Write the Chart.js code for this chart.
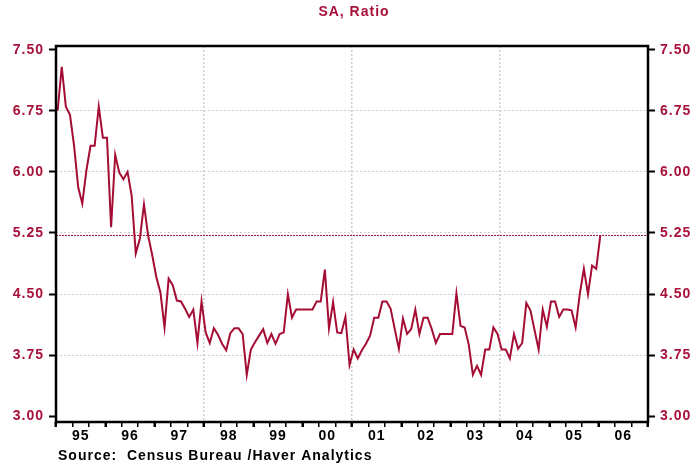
<!DOCTYPE html>
<html>
<head>
<meta charset="utf-8">
<script src="https://cdn.jsdelivr.net/npm/chart.js@4.4.1/dist/chart.umd.min.js"></script>
<style>
  html, body { margin: 0; padding: 0; background: #fff; }
</style>
</head>
<body>
<canvas id="ratioChart" width="696" height="467"></canvas>
<script>
// months' supply ratio, monthly Jan 1995 .. Jan 2006
const values = [
  6.75, 7.29, 6.80, 6.70, 6.32, 5.81, 5.61, 6.02, 6.32, 6.32, 6.80, 6.42,
  6.42, 5.32, 6.21, 5.99, 5.91, 6.00, 5.71, 5.00, 5.18, 5.60, 5.22, 4.98,
  4.71, 4.52, 4.09, 4.69, 4.61, 4.42, 4.41, 4.32, 4.22, 4.31, 3.90, 4.41,
  4.03, 3.90, 4.08, 4.00, 3.89, 3.81, 4.02, 4.08, 4.08, 4.01, 3.51, 3.82,
  3.91, 3.99, 4.07, 3.90, 4.01, 3.89, 4.01, 4.03, 4.50, 4.21, 4.31, 4.31,
  4.31, 4.31, 4.31, 4.41, 4.41, 4.80, 4.08, 4.40, 4.03, 4.02, 4.22, 3.63,
  3.82, 3.71, 3.81, 3.89, 3.99, 4.21, 4.21, 4.41, 4.41, 4.32, 4.07, 3.83,
  4.20, 4.01, 4.07, 4.31, 4.01, 4.21, 4.21, 4.07, 3.90, 4.01, 4.01, 4.01,
  4.01, 4.51, 4.11, 4.09, 3.88, 3.51, 3.62, 3.51, 3.82, 3.82, 4.09, 4.01,
  3.82, 3.82, 3.71, 4.01, 3.83, 3.90, 4.39, 4.30, 4.06, 3.82, 4.31, 4.10,
  4.41, 4.41, 4.22, 4.31, 4.31, 4.30, 4.09, 4.50, 4.81, 4.50, 4.85, 4.81,
  5.22
];
const yearLabels = ['95', '96', '97', '98', '99', '00', '01', '02', '03', '04', '05', '06'];
const yTicks = [3.00, 3.75, 4.50, 5.25, 6.00, 6.75, 7.50];
const gridYears = [36, 72, 108]; // month offsets of the vertical grid lines

const RED = '#a8113a';
const LINE = '#a50d34';
const GRID = '#cdcdcd';
const FONT = { family: "'Liberation Sans', Arial, sans-serif", size: 14, weight: 'bold' };
const nMonths = yearLabels.length * 12;

const points = values.map((v, i) => ({ x: i + 0.4, y: v }));
const last = values[values.length - 1];

// x ticks: every 4 months, plus a label tick in the middle of each year
const xTicks = [];
for (let m = 0; m <= nMonths; m += 4) xTicks.push({ value: m });
yearLabels.forEach((l, i) => xTicks.push({ value: i * 12 + 6 }));
xTicks.sort((a, b) => a.value - b.value);

const extras = {
  id: 'extras',
  beforeDraw(chart) {
    chart.ctx.letterSpacing = '1px';
  },
  afterDatasetsDraw(chart) {
    const { ctx, chartArea: a } = chart;
    ctx.save();
    ctx.strokeStyle = '#000';
    ctx.lineWidth = 2.5;
    ctx.strokeRect(a.left, a.top, a.right - a.left, a.bottom - a.top);
    ctx.restore();
  },
  afterDraw(chart) {
    const ctx = chart.ctx;
    ctx.save();
    ctx.font = 'bold 14px "Liberation Sans", Arial, sans-serif';
    ctx.fillStyle = RED;
    ctx.textAlign = 'center';
    ctx.textBaseline = 'middle';
    ctx.fillText('SA, Ratio', 354, 12);
    ctx.fillStyle = '#000';
    ctx.textAlign = 'left';
    ctx.fillText('Source:  Census Bureau /Haver Analytics', 58, 456);
    ctx.restore();
    ctx.letterSpacing = '0px';
  }
};

const yAxis = (pos, w) => ({
  position: pos,
  min: 2.93,
  max: 7.545,
  afterBuildTicks: s => { s.ticks = yTicks.map(v => ({ value: v })); },
  afterFit: s => { s.width = w; },
  border: { display: false, dash: [2, 2] },
  grid: {
    drawOnChartArea: pos === 'left',
    color: c => (c.tick && (c.tick.value === 3 || c.tick.value === 7.5)) ? 'rgba(0,0,0,0)' : GRID,
    lineWidth: 1,
    tickLength: 7,
    tickColor: '#000',
    tickWidth: 2
  },
  ticks: {
    color: RED,
    font: FONT,
    padding: 5,
    callback: v => v.toFixed(2)
  }
});

new Chart(document.getElementById('ratioChart'), {
  type: 'line',
  data: {
    datasets: [{
      label: 'Ratio',
      data: points,
      borderColor: LINE,
      borderWidth: 2,
      pointRadius: 0,
      tension: 0
    }, {
      label: 'Last',
      data: [{ x: 0, y: last }, { x: nMonths, y: last }],
      borderColor: '#a0123a',
      borderWidth: 1,
      borderDash: [2, 1],
      pointRadius: 0
    }]
  },
  options: {
    responsive: false,
    animation: false,
    layout: { padding: { top: 46, left: 0, right: 0, bottom: 0 } },
    plugins: { legend: { display: false }, tooltip: { enabled: false } },
    scales: {
      x: {
        type: 'linear',
        min: 0,
        max: nMonths,
        afterBuildTicks: s => { s.ticks = xTicks.map(t => ({ value: t.value })); },
        afterFit: s => { s.height = 45; },
        border: { display: false, dash: [2, 2] },
        grid: {
          color: c => (c.tick && gridYears.includes(c.tick.value)) ? GRID : 'rgba(0,0,0,0)',
          lineWidth: 1.5,
          tickLength: 5,
          tickColor: c => (c.tick && c.tick.value % 12 === 6) ? 'rgba(0,0,0,0)' : '#000',
          tickWidth: c => (c.tick && c.tick.value % 12 === 0) ? 2.5 : 1.5
        },
        ticks: {
          color: '#000',
          font: FONT,
          padding: 1,
          autoSkip: false,
          maxRotation: 0,
          callback: v => (v % 12 === 6) ? yearLabels[(v - 6) / 12] : ''
        }
      },
      y: yAxis('left', 56),
      y2: yAxis('right', 48)
    }
  },
  plugins: [extras]
});
</script>
</body>
</html>
